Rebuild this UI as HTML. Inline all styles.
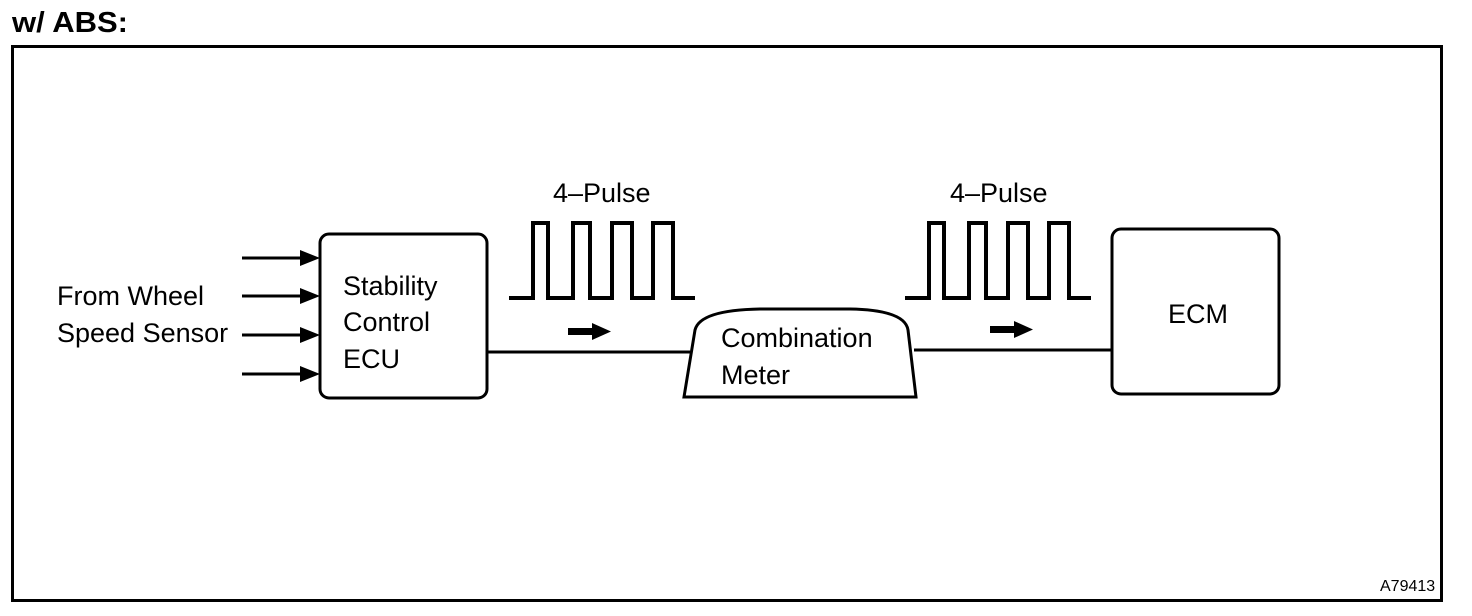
<!DOCTYPE html>
<html><head><style>
html,body{margin:0;padding:0;background:#fff;}
svg{display:block;}
text{font-family:"Liberation Sans",Arial,sans-serif;fill:#000;}
</style></head><body>
<svg width="1472" height="616" viewBox="0 0 1472 616" xmlns="http://www.w3.org/2000/svg">
<text x="12" y="32" font-size="29" font-weight="bold" textLength="116" lengthAdjust="spacingAndGlyphs">w/ ABS:</text>
<rect x="12.5" y="46.5" width="1429" height="554" fill="none" stroke="#000" stroke-width="3"/>
<g stroke="#000" stroke-width="3" fill="none">
<line x1="242" y1="258" x2="300" y2="258"/>
<line x1="242" y1="296" x2="300" y2="296"/>
<line x1="242" y1="335" x2="300" y2="335"/>
<line x1="242" y1="374" x2="300" y2="374"/>
<rect x="320" y="234" width="167" height="164" rx="9"/>
<polyline points="509,298 533,298 533,223 548,223 548,298 573,298 573,223 590,223 590,298 612,298 612,223 632,223 632,298 653,298 653,223 673,223 673,298 695,298" stroke-width="4"/>
<polyline points="905,298 929,298 929,223 944,223 944,298 969,298 969,223 986,223 986,298 1008,298 1008,223 1028,223 1028,298 1049,298 1049,223 1069,223 1069,298 1091,298" stroke-width="4"/>
<line x1="487" y1="352" x2="690" y2="352"/>
<line x1="914" y1="350" x2="1112" y2="350"/>
<path d="M684,397 L695,330 Q700,310 760,309 L850,309 Q905,310 908,330 L916,397 Z"/>
<rect x="1112" y="229" width="167" height="165" rx="9"/>
</g>
<g fill="#000">
<polygon points="300,250 320,258 300,266"/>
<polygon points="300,288 320,296 300,304"/>
<polygon points="300,327 320,335 300,343"/>
<polygon points="300,366 320,374 300,382"/>
<rect x="568" y="328" width="26" height="7"/>
<polygon points="592,323 611,331.5 592,340"/>
<rect x="990" y="326" width="26" height="7"/>
<polygon points="1014,321 1033,329.5 1014,338"/>
</g>
<g font-size="27">
<text x="57" y="305">From Wheel</text>
<text x="57" y="342">Speed Sensor</text>
<text x="343" y="295">Stability</text>
<text x="343" y="331">Control</text>
<text x="343" y="368">ECU</text>
<text x="553" y="202">4–Pulse</text>
<text x="950" y="202">4–Pulse</text>
<text x="721" y="347">Combination</text>
<text x="721" y="384">Meter</text>
<text x="1168" y="323">ECM</text>
</g>
<text x="1380" y="591" font-size="16">A79413</text>
</svg>
</body></html>
